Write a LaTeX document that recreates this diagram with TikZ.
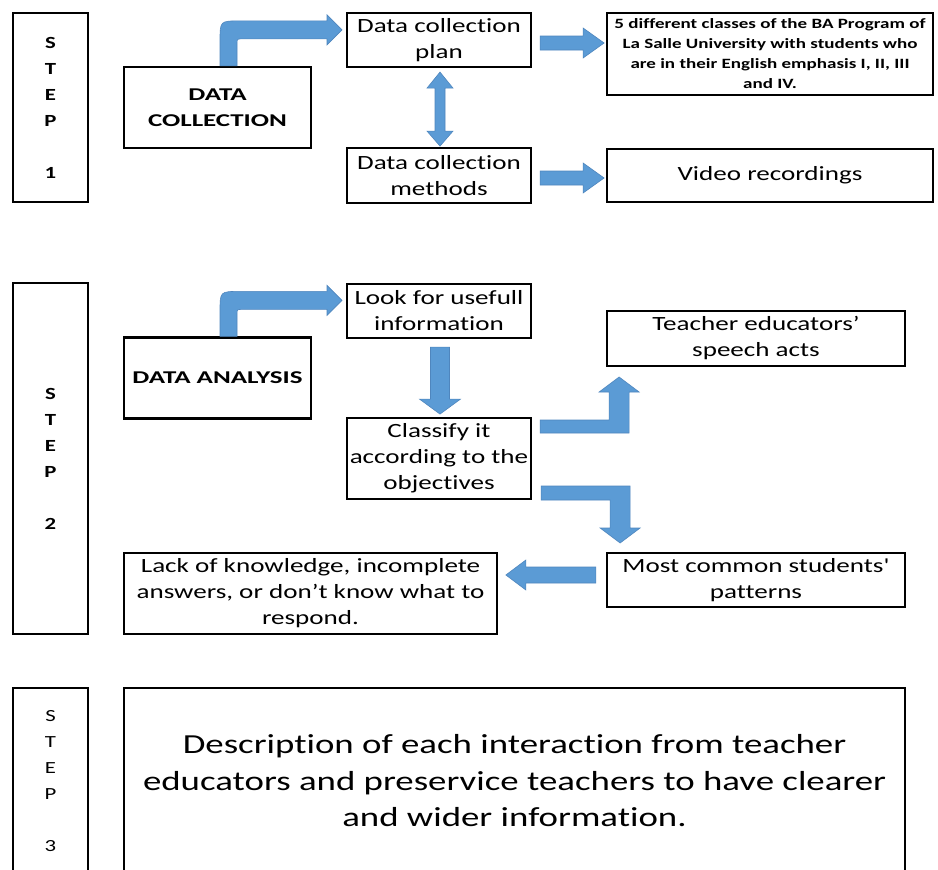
\documentclass[tikz,border=0pt]{standalone}
\usepackage{fontspec}
\usetikzlibrary{calc}
\setmainfont{Carlito}
\newfontfamily\wfont[FakeStretch=1.34,Ligatures=NoCommon]{Carlito}
\newfontfamily\tfont[FakeStretch=1.5,Ligatures=NoCommon]{Carlito}
\definecolor{arrowblue}{HTML}{5B9BD5}
\definecolor{arrowedge}{HTML}{4F86BE}
\tikzset{
  box/.style={draw=black, line width=2.2pt, inner sep=0pt, align=center, fill=white},
  txt/.style={font=\wfont\fontsize{20.2}{26}\selectfont},
  ttl/.style={font=\tfont\bfseries\fontsize{18}{26}\selectfont},
  stepl/.style={font=\wfont\bfseries\fontsize{17}{26}\selectfont},
  blk/.style={fill=arrowblue, draw=arrowedge, line width=0.6pt, line join=miter},
  rarrow/.pic={\path[blk] (0,-7) -- (43,-7) -- (43,-15) -- (64,0) -- (43,15) -- (43,7) -- (0,7) -- cycle;},
  carrow/.pic={\path[blk] (2.5,0) -- (2.5,-25) .. controls (2.5,-45) .. (22.5,-45) -- (109.5,-45) -- (109.5,-51) -- (124.5,-36) -- (109.5,-21) -- (109.5,-27) -- (24.5,-27) .. controls (19.5,-27) .. (19.5,-22) -- (19.5,0) -- cycle;}
}
\begin{document}
\begin{tikzpicture}[x=1pt,y=-1pt]
\clip (0,0) rectangle (938,870);
\fill[white] (0,0) rectangle (938,870);

% STEP 1
\node[box, stepl, minimum width=75pt, minimum height=189pt] (step1) at (50.5,107.5) {S\\T\\E\\P\\[26pt]1};
\node[box, ttl, minimum width=187pt, minimum height=81pt] (dc) at (217.5,107.5) {DATA\\COLLECTION};
\node[box, txt, minimum width=184pt, minimum height=54pt] (plan) at (439,40) {Data collection\\plan};
\node[box, font=\wfont\bfseries\fontsize{14.2}{20}\selectfont, minimum width=326pt, minimum height=82pt] (classes) at (770,54) {5 different classes of the BA Program of\\La Salle University with students who\\are in their English emphasis I, II, III\\and IV.};
\node[box, txt, minimum width=184pt, minimum height=55pt] (methods) at (439,175.5) {Data collection\\methods};
\node[box, txt, minimum width=326pt, minimum height=53pt] (video) at (770,175.5) {Video recordings};

\pic at (dc.north) {carrow};
\pic at ($(plan.east)+(8,3)$) {rarrow};
\pic at ($(methods.east)+(8,2.5)$) {rarrow};
\begin{scope}[shift={($(plan.south)+(1,0)$)}]
\path[blk] (0,4) -- (13,20) -- (5,20) -- (5,63) -- (13,63) -- (0,78) -- (-13,63) -- (-5,63) -- (-5,20) -- (-13,20) -- cycle;
\end{scope}

% STEP 2
\node[box, stepl, minimum width=75pt, minimum height=351pt] (step2) at (50.5,458.5) {S\\T\\E\\P\\[26pt]2};
\node[box, ttl, minimum width=187pt, minimum height=81pt] (da) at (217.5,378) {DATA ANALYSIS};
\node[box, txt, minimum width=184pt, minimum height=54pt] (look) at (439,311) {Look for usefull\\information};
\node[box, txt, minimum width=184pt, minimum height=81pt] (classify) at (439,458.5) {Classify it\\according to the\\objectives};
\node[box, txt, minimum width=298pt, minimum height=55pt] (teacher) at (756,338.5) {Teacher educators’\\speech acts};
\node[box, txt, minimum width=298pt, minimum height=54pt] (most) at (756,580) {Most common students'\\patterns};
\node[box, txt, minimum width=373pt, minimum height=81pt] (lack) at (310.5,593.5) {Lack of knowledge, incomplete\\answers, or don’t know what to\\respond.};

\pic at (da.north) {carrow};
\begin{scope}[shift={(look.south)}]
\path[blk] (-8.5,8) -- (10.5,8) -- (10.5,60) -- (21.5,60) -- (1,75) -- (-19.5,60) -- (-8.5,60) -- cycle;
\end{scope}
\begin{scope}[shift={(classify.east)}]
\path[blk] (8,-38.5) -- (77,-38.5) -- (77,-66.5) -- (67,-66.5) -- (87,-81.5) -- (107,-66.5) -- (97,-66.5) -- (97,-25.5) -- (8,-25.5) -- cycle;
\path[blk] (9,27.5) -- (98,27.5) -- (98,69.5) -- (108,69.5) -- (88,84.5) -- (68,69.5) -- (78,69.5) -- (78,41.5) -- (9,41.5) -- cycle;
\end{scope}
\begin{scope}[shift={(most.west)}]
\path[blk] (-10,-13) -- (-80,-13) -- (-80,-20) -- (-100,-5) -- (-80,10) -- (-80,3) -- (-10,3) -- cycle;
\end{scope}

% STEP 3
\node[box, font=\wfont\fontsize{17}{26}\selectfont, minimum width=75pt, minimum height=186pt] (step3) at (50.5,781) {S\\T\\E\\P\\[26pt]3};
\node[box, font=\wfont\fontsize{27.5}{36.5}\selectfont, minimum width=781pt, minimum height=186pt] (desc) at (514.5,781) {Description of each interaction from teacher\\educators and preservice teachers to have clearer\\and wider information.};
\end{tikzpicture}
\end{document}
